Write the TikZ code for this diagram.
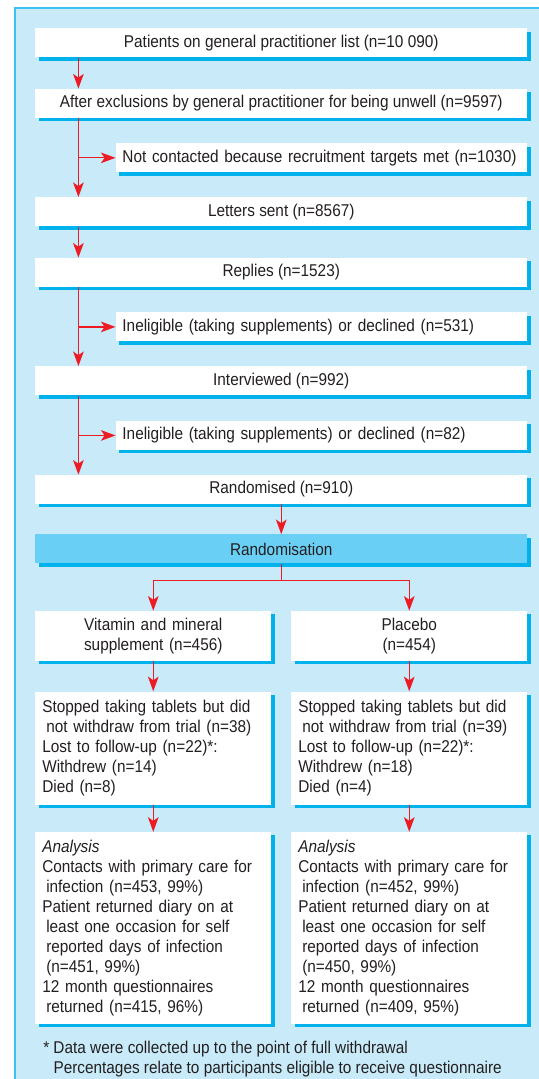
\documentclass[tikz,border=0pt]{standalone}
\usepackage{fontspec}
\setmainfont{Liberation Sans}[FakeStretch=0.9]
\usepackage{tikz}
\usetikzlibrary{shapes,arrows.meta,positioning,shadows}
\definecolor{panelblue}{RGB}{201,235,249}
\definecolor{edgeblue}{RGB}{62,192,240}
\definecolor{shadeblue}{RGB}{0,178,236}
\definecolor{randblue}{RGB}{106,207,244}
\definecolor{arrowred}{RGB}{237,28,36}
\definecolor{inkgray}{RGB}{35,31,32}
\newcommand{\subind}{\hspace*{3pt}}
\tikzstyle{block} = [rectangle, fill=white, text=inkgray, minimum width=369pt, minimum height=21.75pt, inner sep=0pt, text centered, font=\fontsize{12.8}{15}\selectfont, drop shadow={shadow xshift=2.6pt, shadow yshift=-2.5pt, fill=shadeblue, opacity=1}]
\tikzstyle{sidebox} = [block, minimum width=308.6pt, inner xsep=5pt, text width=298.6pt, align=left]
\tikzstyle{colbox} = [block, minimum width=177pt, inner xsep=5.25pt, text width=166.5pt, align=left]
\tikzstyle{line} = [draw, arrowred, line width=0.9pt, -{Stealth[length=11pt, width=8pt, inset=2.8pt]}]
\begin{document}
\begin{tikzpicture}
            \useasboundingbox (0,0) rectangle (404.25pt,-809.25pt);
            % background panel
            \fill[panelblue] (11.25pt,-6pt) rectangle (404.25pt,-809.25pt);
            \draw[edgeblue, line width=1.5pt] (11.25pt,-809.25pt) -- (11.25pt,-6pt) -- (404.25pt,-6pt);

            \node[block, anchor=north west]                  (patients) at (26.25pt,-21pt){
                Patients on general practitioner list (n=10 090)
            };
            \node[block, below=23.25pt of patients]          (exclusions){
                After exclusions by general practitioner for being unwell (n=9597)
            };
            \node[sidebox, below=18.75pt of exclusions.south east, anchor=north east] (not_contacted){
                Not contacted because recruitment targets met (n=1030)
            };
            \node[block, below=59.25pt of exclusions]        (letters){
                Letters sent (n=8567)
            };
            \node[block, below=23.25pt of letters]           (replies){
                Replies (n=1523)
            };
            \node[sidebox, below=18.75pt of replies.south east, anchor=north east] (ineligible_replies){
                Ineligible (taking supplements) or declined (n=531)
            };
            \node[block, below=59.25pt of replies]           (interviewed){
                Interviewed (n=992)
            };
            \node[sidebox, below=18.75pt of interviewed.south east, anchor=north east] (ineligible_interviewed){
                Ineligible (taking supplements) or declined (n=82)
            };
            \node[block, below=59.25pt of interviewed]       (randomised){
                Randomised (n=910)
            };
            \node[block, fill=randblue, below=22.5pt of randomised] (randomisation){
                Randomisation
            };

            % the two arms
            \node[colbox, align=center, minimum height=37.5pt, below=35.25pt of randomisation.south west, anchor=north west] (vitamin){
                Vitamin and mineral\\supplement (n=456)
            };
            \node[colbox, align=center, minimum height=37.5pt, below=35.25pt of randomisation.south east, anchor=north east] (placebo){
                Placebo\\(n=454)
            };
            \node[colbox, minimum height=84.75pt, below=22.5pt of vitamin] (vitamin_lost){
                Stopped taking tablets but did\\
                \subind not withdraw from trial (n=38)\\
                Lost to follow-up (n=22)*:\\
                Withdrew (n=14)\\
                Died (n=8)
            };
            \node[colbox, minimum height=84.75pt, below=22.5pt of placebo] (placebo_lost){
                Stopped taking tablets but did\\
                \subind not withdraw from trial (n=39)\\
                Lost to follow-up (n=22)*:\\
                Withdrew (n=18)\\
                Died (n=4)
            };
            \node[colbox, minimum height=144pt, below=20.25pt of vitamin_lost] (vitamin_analysis){
                \textit{Analysis}\\
                Contacts with primary care for\\
                \subind infection (n=453, 99\%)\\
                Patient returned diary on at\\
                \subind least one occasion for self\\
                \subind reported days of infection\\
                \subind (n=451, 99\%)\\
                12 month questionnaires\\
                \subind returned (n=415, 96\%)
            };
            \node[colbox, minimum height=144pt, below=20.25pt of placebo_lost] (placebo_analysis){
                \textit{Analysis}\\
                Contacts with primary care for\\
                \subind infection (n=452, 99\%)\\
                Patient returned diary on at\\
                \subind least one occasion for self\\
                \subind reported days of infection\\
                \subind (n=450, 99\%)\\
                12 month questionnaires\\
                \subind returned (n=409, 95\%)
            };
            \node[below=12.75pt of vitamin_analysis.south west, anchor=north west, xshift=6pt, inner sep=0pt, align=left, text=inkgray, font=\fontsize{12.8}{15}\selectfont] (footnote){
                *~Data were collected up to the point of full withdrawal\\
                \phantom{*~}Percentages relate to participants eligible to receive questionnaire
            };

            % connectors
            \coordinate (trunk_top) at ([xshift=32.55pt]patients.south west);
            \coordinate (trunk_a) at ([xshift=32.55pt]exclusions.south west);
            \coordinate (trunk_b) at ([xshift=32.55pt]replies.south west);
            \coordinate (trunk_c) at ([xshift=32.55pt]interviewed.south west);
            \path[line] (trunk_top) -- (trunk_top |- exclusions.north);
            \path[line] (trunk_a) -- (trunk_a |- letters.north);
            \path[line] (trunk_a |- not_contacted.west) -- (not_contacted.west);
            \path[line] ([xshift=32.55pt]letters.south west) -- (trunk_b |- replies.north);
            \path[line] (trunk_b) -- (trunk_b |- interviewed.north);
            \path[line] (trunk_b |- ineligible_replies.west) -- (ineligible_replies.west);
            \path[line] (trunk_c) -- (trunk_c |- randomised.north);
            \path[line] (trunk_c |- ineligible_interviewed.west) -- (ineligible_interviewed.west);
            \path[line] (randomised) -- (randomisation);
            \coordinate (split) at ([yshift=-12.75pt]randomisation.south);
            \path[line] (randomisation.south) -- (split) -| (vitamin.north);
            \path[line] (split) -| (placebo.north);
            \path[line] (vitamin) -- (vitamin_lost);
            \path[line] (placebo) -- (placebo_lost);
            \path[line] (vitamin_lost) -- (vitamin_analysis);
            \path[line] (placebo_lost) -- (placebo_analysis);
\end{tikzpicture}
\end{document}
